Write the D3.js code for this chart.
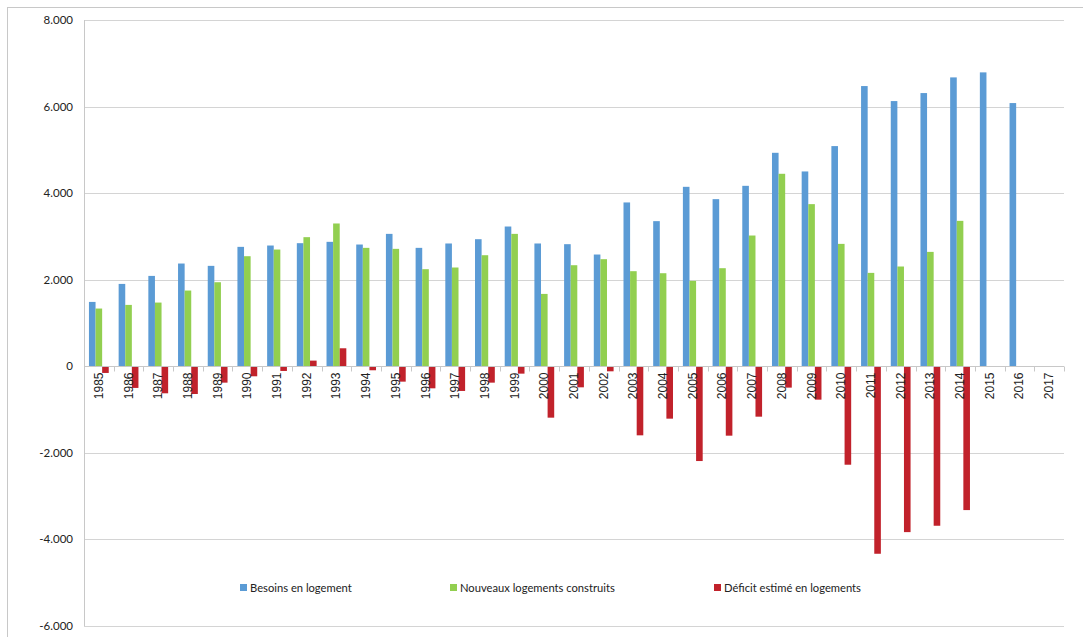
<!DOCTYPE html>
<html lang="fr">
<head>
<meta charset="UTF-8">
<title>Besoins, logements construits et déficit</title>
<script src="https://d3js.org/d3.v7.min.js"></script>
<style>
  body { margin: 0; background: #fff; }
  .ytick { font-family: Lato, "Open Sans", sans-serif; font-size: 11.5px; fill: #222; }
  .xtick { font-family: "Liberation Sans", Arial, sans-serif; font-size: 12px; fill: #222; }
  .legend text { font-family: Lato, "Open Sans", sans-serif; font-size: 11.2px; fill: #222; }
</style>
</head>
<body>
<svg id="chart" width="1083" height="637"></svg>
<script>
// data
const years = d3.range(1985, 2018).map(String);
const besoins = [1487, 1903, 2088, 2374, 2320, 2759, 2790, 2844, 2875, 2813,
                 3059, 2736, 2837, 2936, 3229, 2837, 2821, 2582, 3785, 3353,
                 4146, 3861, 4169, 4932, 4501, 5087, 6474, 6127, 6312, 6674,
                 6790, 6081, null];
const construits = [1334, 1418, 1472, 1750, 1942, 2543, 2697, 2983, 3299, 2736,
                    2713, 2243, 2282, 2566, 3059, 1672, 2335, 2474, 2197, 2150,
                    1973, 2266, 3021, 4447, 3746, 2828, 2158, 2305, 2643, 3360,
                    null, null, null];
const deficit = [-154, -500, -624, -640, -378, -231, -108, 131, 416, -92,
                 -355, -509, -570, -378, -170, -1187, -486, -116, -1595, -1210,
                 -2189, -1603, -1164, -493, -771, -2274, -4331, -3831, -3684, -3322,
                 null, null, null];
const yTicks = [-6000, -4000, -2000, 0, 2000, 4000, 6000, 8000];
const seriesNames = ["Besoins en logement", "Nouveaux logements construits", "Déficit estimé en logements"];
const colors = ["#5b9bd5", "#92cf50", "#c1222b"];

const svg = d3.select("#chart");

// outer frame
svg.append("rect")
    .attr("x", 7.5).attr("y", 7.5)
    .attr("width", 1090).attr("height", 640)
    .attr("fill", "none").attr("stroke", "#c8c8c8");

const x = d3.scaleBand().domain(years).range([84, 1064]);
const xs = d3.scaleBand().domain([0, 1, 2]).range([0, x.bandwidth()]).paddingOuter(0.75);
const y = d3.scaleLinear().domain([-6000, 8000]).range([626, 20]);

const fmt = d3.formatLocale({ decimal: ",", thousands: ".", grouping: [3], currency: ["", ""], minus: "-" }).format(",");

// gridlines
svg.append("g").selectAll("line").data(yTicks).join("line")
    .attr("x1", 84).attr("x2", 1064)
    .attr("y1", d => Math.round(y(d)) + 0.5).attr("y2", d => Math.round(y(d)) + 0.5)
    .attr("stroke", "#d4d4d4");

// y labels
svg.append("g").selectAll("text").data(yTicks).join("text")
    .attr("class", "ytick")
    .attr("x", 73).attr("y", d => y(d))
    .attr("dy", "0.35em")
    .attr("text-anchor", "end")
    .text(d => fmt(d));

// left axis line
svg.append("line")
    .attr("x1", 84.5).attr("x2", 84.5)
    .attr("y1", y(8000)).attr("y2", y(-6000))
    .attr("stroke", "#c8c8c8");

// bars
const allSeries = [besoins, construits, deficit];
allSeries.forEach((vals, si) => {
    svg.append("g").selectAll("rect")
        .data(years.map((yr, i) => ({ yr, v: vals[i] })).filter(d => d.v != null))
        .join("rect")
        .attr("x", d => x(d.yr) + xs(si))
        .attr("width", xs.bandwidth())
        .attr("y", d => y(Math.max(0, d.v)))
        .attr("height", d => Math.abs(y(d.v) - y(0)))
        .attr("fill", colors[si]);
});

// category axis at zero
const zeroY = Math.round(y(0)) + 0.5;
svg.append("line")
    .attr("x1", 84).attr("x2", 1064)
    .attr("y1", zeroY).attr("y2", zeroY)
    .attr("stroke", "#c8c8c8");
svg.append("g").selectAll("line").data(years.concat(["end"])).join("line")
    .attr("x1", (d, i) => Math.round(84 + i * x.step()) + 0.5)
    .attr("x2", (d, i) => Math.round(84 + i * x.step()) + 0.5)
    .attr("y1", zeroY).attr("y2", zeroY + 5)
    .attr("stroke", "#c8c8c8");

// year labels, rotated
svg.append("g").selectAll("text").data(years).join("text")
    .attr("class", "xtick")
    .attr("transform", d => `translate(${x(d) + x.bandwidth() / 2 + 4},${zeroY + 6}) rotate(-90)`)
    .attr("text-anchor", "end")
    .text(d => d);

// legend
const legendX = [240, 450, 714];
const legend = svg.append("g").attr("class", "legend");
seriesNames.forEach((name, i) => {
    legend.append("rect")
        .attr("x", legendX[i]).attr("y", 584)
        .attr("width", 7).attr("height", 7)
        .attr("fill", colors[i]);
    legend.append("text")
        .attr("x", legendX[i] + 10).attr("y", 588)
        .attr("dy", "0.35em")
        .text(name);
});
</script>
</body>
</html>
